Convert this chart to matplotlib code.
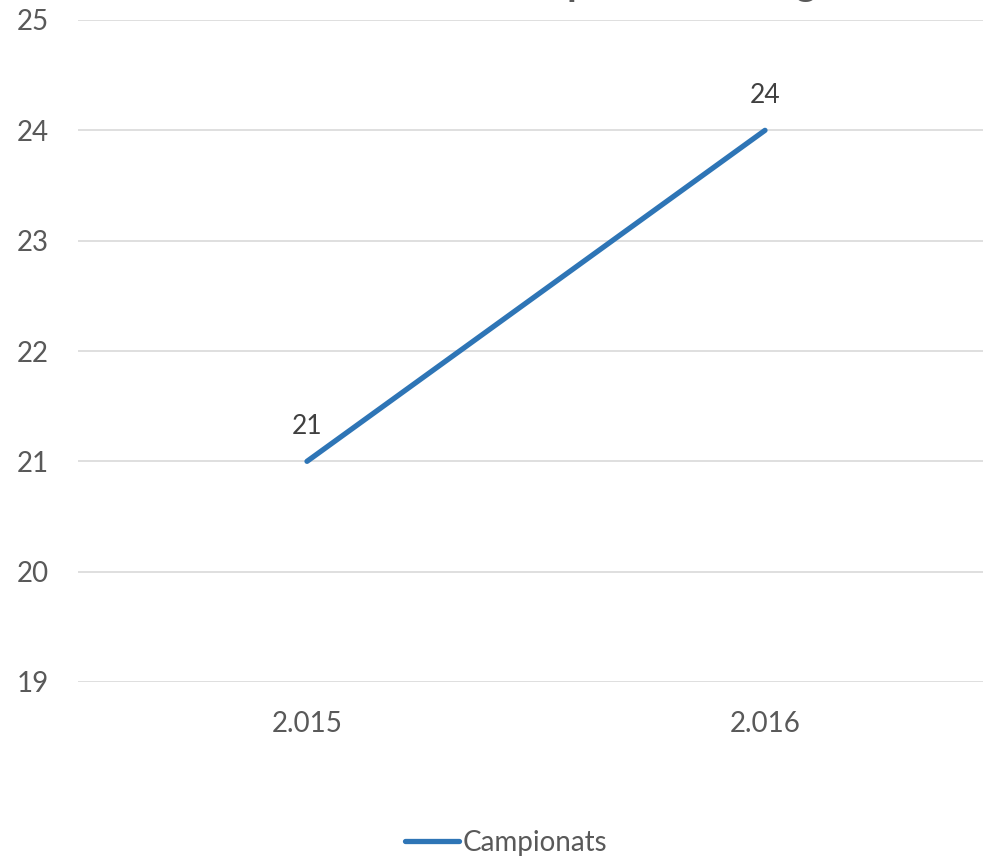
import matplotlib.pyplot as plt

years = ['2.015', '2.016']
campionats = [21, 24]
y_ticks = [19, 20, 21, 22, 23, 24, 25]

plt.rcParams['font.family'] = ['Lato', 'DejaVu Sans']

fig = plt.figure(figsize=(9.83, 8.59), dpi=100)
ax = fig.add_axes([78 / 983, 1 - 682 / 859, (994 - 78) / 983, (682 - 20) / 859])

x = list(range(len(years)))
line, = ax.plot(x, campionats, color='#2e75b6', linewidth=3.8, solid_capstyle='round',
                label='Campionats', zorder=3)
for xi, v in zip(x, campionats):
    ax.annotate(str(v), (xi, v), xytext=(0, 25), textcoords='offset points',
                ha='center', va='center', fontsize=19, color='#404040')

ax.set_xlim(-0.5, 1.5)
ax.set_ylim(19, 25)
ax.set_yticks(y_ticks)
ax.set_xticks(x)
ax.set_xticklabels(years)
ax.grid(axis='y', color='#d9d9d9', linewidth=1.2)
ax.set_axisbelow(True)
for s in ax.spines.values():
    s.set_visible(False)
ax.tick_params(length=0, labelsize=20, labelcolor='#595959')
ax.tick_params(axis='x', pad=21)
ax.tick_params(axis='y', pad=21)

# titol, quasi tot fora de la imatge (nomes es veuen els descendents)
fig.text(0.5 + 0.07, 1.0 + 4 / 859, 'Nombre de Campionats de Lliga', ha='center', va='baseline',
         fontsize=28, fontweight='bold', color='#595959')

fig.legend(handles=[line], loc='center', bbox_to_anchor=(0.515, 1 - 843 / 859), frameon=False,
           fontsize=20, labelcolor='#595959', handlelength=1.95, handletextpad=0.15)

fig.savefig('out.png', dpi=100)
